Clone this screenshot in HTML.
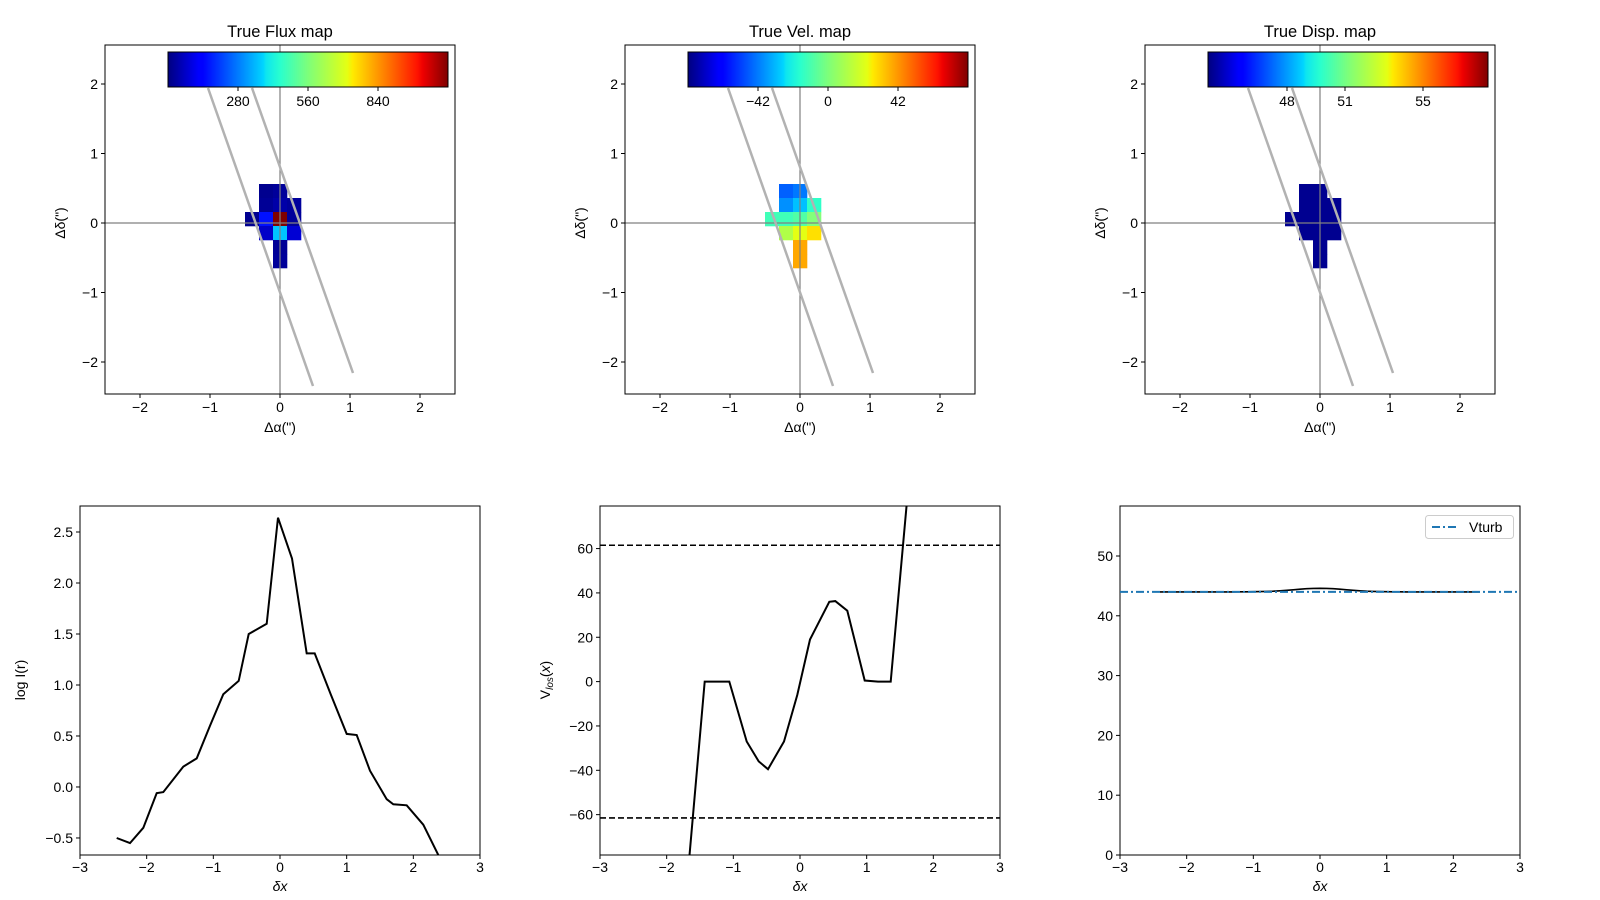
<!DOCTYPE html>
<html><head><meta charset="utf-8"><style>
html,body{margin:0;padding:0;background:#fff;}
svg{display:block;font-family:"Liberation Sans","DejaVu Sans",sans-serif;}
</style></head><body>
<svg id="s" width="1600" height="900" xmlns="http://www.w3.org/2000/svg">
<defs>
<linearGradient id="jet" x1="0" x2="1" y1="0" y2="0">
<stop offset="0" stop-color="#00007f"/><stop offset="0.11" stop-color="#0000ff"/>
<stop offset="0.125" stop-color="#0000ff"/><stop offset="0.34" stop-color="#00d4ff"/>
<stop offset="0.35" stop-color="#0de5f0"/><stop offset="0.4" stop-color="#29ffce"/>
<stop offset="0.5" stop-color="#7dff7a"/><stop offset="0.64" stop-color="#e4ff13"/>
<stop offset="0.66" stop-color="#ffea00"/><stop offset="0.89" stop-color="#ff1300"/>
<stop offset="0.91" stop-color="#ee0000"/><stop offset="1" stop-color="#7f0000"/>
</linearGradient>
</defs>
</svg>
<script>
var s=document.getElementById('s'),h='';
function L(x1,y1,x2,y2,st){h+='<line x1="'+x1+'" y1="'+y1+'" x2="'+x2+'" y2="'+y2+'" '+(st||'stroke="#000" stroke-width="1"')+'/>';}
function T(x,y,t,a,extra){h+='<text x="'+x+'" y="'+y+'" font-size="14" text-anchor="'+(a||'middle')+'" '+(extra||'')+'>'+t+'</text>';}
function R(x,y,w,hh,f){h+='<rect x="'+x+'" y="'+y+'" width="'+w+'" height="'+hh+'" fill="'+f+'"/>';}
var tops=[{x0:105,t:'True Flux map',cb:['280','560','840'],cbx:[133,203,273]},
{x0:625,t:'True Vel. map',cb:['\u221242','0','42'],cbx:[133,203,273]},
{x0:1145,t:'True Disp. map',cb:['48','51','55'],cbx:[142,200,278]}];
var flux=[[0,[[1,'#00008f'],[2,'#00009a']]],[1,[[1,'#000096'],[2,'#0000a8'],[3,'#00009c']]],[2,[[0,'#000090'],[1,'#0010ff'],[2,'#800000'],[3,'#00009a']]],[3,[[1,'#0000c8'],[2,'#00c4ff'],[3,'#0000d4']]],[4,[[2,'#000096']]],[5,[[2,'#00009a']]]];
var vel=[[0,[[1,'#0060ff'],[2,'#0078ff']]],[1,[[1,'#0090ff'],[2,'#00c0ff'],[3,'#30ffc8']]],[2,[[0,'#40ffb8'],[1,'#40ffb8'],[2,'#50ffa6'],[3,'#84ff7a']]],[3,[[1,'#b0ff48'],[2,'#e4ff14'],[3,'#ffe000']]],[4,[[2,'#ffa800']]],[5,[[2,'#ffa800']]]];
var disp=flux.map(function(r){return [r[0],r[1].map(function(c){return [c[0],'#000090'];})];});
var maps=[flux,vel,disp];
tops.forEach(function(p,i){
 var x0=p.x0,cx=x0+175,cy=223;
 maps[i].forEach(function(r){r[1].forEach(function(c){R(x0+140+c[0]*14,184+r[0]*14,14.3,14.3,c[1]);});});
 L(x0,cy,x0+350,cy,'stroke="#808080" stroke-width="1.2"');
 L(cx,45,cx,394,'stroke="#808080" stroke-width="1.2"');
 h+='<line x1="'+(x0+103)+'" y1="88" x2="'+(x0+208)+'" y2="386" stroke="#b2b2b2" stroke-width="2.5"/>';
 h+='<line x1="'+(x0+147)+'" y1="88" x2="'+(x0+248)+'" y2="373" stroke="#b2b2b2" stroke-width="2.5"/>';
 h+='<rect x="'+(x0+63)+'" y="52" width="280" height="35" fill="url(#jet)" stroke="#000" stroke-width="1"/>';
 p.cbx.forEach(function(x,j){x=x+x0;L(x,87,x,91);T(x,106,p.cb[j]);});
 h+='<rect x="'+x0+'" y="45" width="350" height="349" fill="none" stroke="#000" stroke-width="1"/>';
 [-2,-1,0,1,2].forEach(function(v){var x=cx+70*v;L(x,394,x,398);T(x,412,v<0?'\u2212'+(-v):v);
  var y=cy-69.5*v;L(x0-4,y,x0,y);T(x0-7,y+5,v<0?'\u2212'+(-v):v,'end');});
 h+='<text x="'+cx+'" y="37" font-size="16.5" text-anchor="middle">'+p.t+'</text>';
 T(cx,432,'\u0394\u03b1(")');
 h+='<text transform="translate('+(x0-40)+','+cy+') rotate(-90)" font-size="14" text-anchor="middle">\u0394\u03b4(")</text>';
});
var bx=[80,600,1120],by0=506,by1=855;
function fmt(v,d){var t=Math.abs(v).toFixed(d);return (v<0?'\u2212':'')+t;}
function panel(i,ymin,ymax,ticks,dec){
 var x0=bx[i];
 var X=function(v){return x0+(v+3)*400/6;},Y=function(v){return by1-(v-ymin)*(by1-by0)/(ymax-ymin);};
 h+='<rect x="'+x0+'" y="'+by0+'" width="400" height="349" fill="none" stroke="#000" stroke-width="1"/>';
 for(var v=-3;v<=3;v++){L(X(v),by1,X(v),by1+4);T(X(v),872,v<0?'\u2212'+(-v):v);}
 ticks.forEach(function(v){L(x0-4,Y(v),x0,Y(v));T(x0-7,Y(v)+5,fmt(v,dec),'end');});
 h+='<text x="'+(x0+200)+'" y="891" font-size="14" text-anchor="middle" font-style="italic">\u03b4x</text>';
 return {X:X,Y:Y};
}
function poly(P,pts,st){var d=pts.map(function(q){return P.X(q[0]).toFixed(1)+','+P.Y(q[1]).toFixed(1);}).join(' ');
 h+='<polyline points="'+d+'" fill="none" '+st+'/>';}
var P1=panel(0,-0.667,2.755,[-0.5,0,0.5,1,1.5,2,2.5],1);
h+='<svg x="80" y="506" width="400" height="349" overflow="hidden"><g transform="translate(-80,-506)">';
poly(P1,[[-2.45,-0.5],[-2.25,-0.55],[-2.05,-0.4],[-1.85,-0.06],[-1.75,-0.05],[-1.45,0.2],[-1.25,0.28],[-1.05,0.6],[-0.85,0.91],[-0.62,1.04],[-0.47,1.5],[-0.2,1.6],[-0.03,2.64],[0.18,2.24],[0.4,1.31],[0.52,1.31],[0.76,0.91],[1.0,0.52],[1.15,0.51],[1.35,0.16],[1.6,-0.12],[1.7,-0.17],[1.9,-0.18],[2.15,-0.37],[2.4,-0.7]],'stroke="#000" stroke-width="2"');
h+='</g></svg>';
h+='<text transform="translate(25,680) rotate(-90)" font-size="14" text-anchor="middle">log I(r)</text>';
var P2=panel(1,-78.2,79.2,[-60,-40,-20,0,20,40,60],0);
h+='<svg x="600" y="506" width="400" height="349" overflow="hidden"><g transform="translate(-600,-506)">';
L(600,P2.Y(61.5),1000,P2.Y(61.5),'stroke="#000" stroke-width="1.6" stroke-dasharray="6,3"');
L(600,P2.Y(-61.5),1000,P2.Y(-61.5),'stroke="#000" stroke-width="1.6" stroke-dasharray="6,3"');
poly(P2,[[-1.72,-100],[-1.43,0],[-1.06,0],[-0.8,-27],[-0.62,-36],[-0.48,-39.5],[-0.24,-27],[-0.04,-6],[0.15,19],[0.44,36],[0.53,36.3],[0.71,32],[0.97,0.5],[1.17,0],[1.36,0],[1.66,100]],'stroke="#000" stroke-width="2"');
h+='</g></svg>';
h+='<text transform="translate(550,680) rotate(-90)" font-size="14" text-anchor="middle">V<tspan font-style="italic" font-size="10" dy="3">los</tspan><tspan dy="-3">(</tspan><tspan font-style="italic">x</tspan>)</text>';
var P3=panel(2,0,58.36,[0,10,20,30,40,50],0);
var pts=[];for(var x=-2.4;x<=2.41;x+=0.1){pts.push([x,44+0.6*Math.exp(-x*x/0.3)]);}
poly(P3,pts,'stroke="#000" stroke-width="1.6"');
L(1120,P3.Y(44),1520,P3.Y(44),'stroke="#1f77b4" stroke-width="2" stroke-dasharray="8,3,2,3"');
h+='<rect x="1425.5" y="515.5" width="88" height="23" rx="3" fill="#fff" stroke="#ccc"/>';
L(1432,527,1458,527,'stroke="#1f77b4" stroke-width="2" stroke-dasharray="8,3,2,3"');
T(1469,532,'Vturb','start');
s.insertAdjacentHTML('beforeend',h);
</script>
</body></html>
